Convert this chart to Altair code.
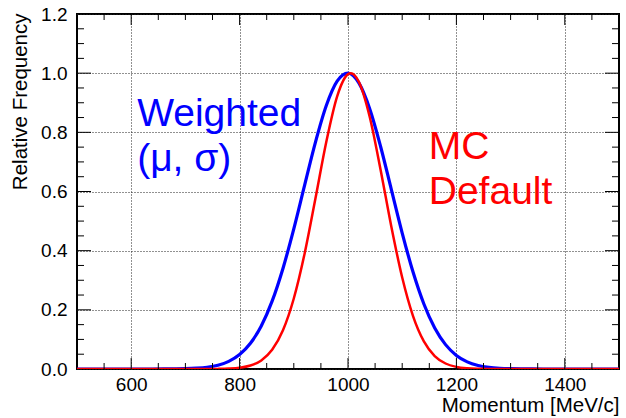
import altair as alt
import pandas as pd

# Momentum grid [MeV/c]
x_blue = [500, 540, 580, 620, 660, 700, 720, 740, 760, 780, 800, 820, 840, 860, 880, 900,
          920, 940, 960, 980, 1000, 1020, 1040, 1060, 1080, 1100, 1120, 1140, 1160, 1180,
          1200, 1220, 1240, 1260, 1280, 1300, 1340, 1380, 1420, 1460, 1500]
y_blue = [0.0, 0.0, 0.0, 0.0, 0.0002, 0.0011, 0.0027, 0.0060, 0.0129, 0.0259, 0.0489, 0.0870,
          0.1456, 0.2294, 0.340, 0.4738, 0.6215, 0.767, 0.8906, 0.9729, 1.0, 0.967, 0.8798,
          0.753, 0.6065, 0.4596, 0.3277, 0.2198, 0.1387, 0.0824, 0.046, 0.0242, 0.012,
          0.0056, 0.0024, 0.001, 0.0001, 0.0, 0.0, 0.0, 0.0]

x_red = [500, 560, 620, 680, 740, 760, 780, 800, 820, 840, 860, 880, 900, 920, 940, 960, 980,
         1000, 1005, 1020, 1040, 1060, 1080, 1100, 1120, 1140, 1160, 1180, 1200, 1220, 1240,
         1260, 1300, 1360, 1420, 1500]
y_red = [0.0, 0.0, 0.0, 0.0, 0.0001, 0.0004, 0.0014, 0.0042, 0.0117, 0.029, 0.0649, 0.131,
         0.2384, 0.3907, 0.5772, 0.7684, 0.9219, 0.9968, 1.0, 0.9711, 0.8527, 0.6747, 0.4811,
         0.3092, 0.179, 0.0934, 0.0439, 0.0186, 0.0071, 0.0024, 0.0007, 0.0002, 0.0, 0.0,
         0.0, 0.0]

x_major = [600, 800, 1000, 1200, 1400]
x_minor = [550, 650, 700, 750, 850, 900, 950, 1050, 1100, 1150, 1250, 1300, 1350, 1450]
y_major = [0.2, 0.4, 0.6, 0.8, 1.0]
y_minor = [0.05, 0.1, 0.15, 0.25, 0.3, 0.35, 0.45, 0.5, 0.55, 0.65, 0.7, 0.75,
           0.85, 0.9, 0.95, 1.05, 1.1, 1.15]
y_labels = [0.0, 0.2, 0.4, 0.6, 0.8, 1.0, 1.2]

W, H = 542, 355
FONT = "Liberation Sans"

blue_df = pd.DataFrame({"p": x_blue, "f": y_blue})
red_df = pd.DataFrame({"p": x_red, "f": y_red})

xs = alt.Scale(domain=[500, 1500], nice=False, zero=False)
ys = alt.Scale(domain=[0, 1.2], nice=False)

xaxis = alt.Axis(values=x_major, format="d", grid=True, gridDash=[1, 2], gridColor="#222",
                 gridWidth=1, ticks=False, domain=False, labelFontSize=19, labelFont=FONT,
                 labelColor="black", labelPadding=6, title="Momentum [MeV/c]", titleFont=FONT,
                 titleFontSize=20.5, titleFontWeight="normal", titleColor="black",
                 titleAnchor="end", titleAlign="right", titleBaseline="alphabetic",
                 titleX=W, titleY=42)
yaxis = alt.Axis(values=y_labels, format=".1f", grid=True, gridDash=[1, 2], gridColor="#222",
                 gridWidth=1, ticks=False, domain=False, labelFontSize=19, labelFont=FONT,
                 labelColor="black", labelPadding=10, title="Relative Frequency",
                 titleFont=FONT, titleFontSize=20.5, titleFontWeight="normal", titleColor="black",
                 titleAngle=270, titleAlign="right", titleBaseline="alphabetic",
                 titleX=-51, titleY=-1)

base_blue = alt.Chart(blue_df).mark_line(color="#0000ff", strokeWidth=3.2, clip=True,
                                         interpolate="monotone").encode(
    x=alt.X("p:Q", scale=xs, axis=xaxis),
    y=alt.Y("f:Q", scale=ys, axis=yaxis),
)
red_line = alt.Chart(red_df).mark_line(color="#ff0000", strokeWidth=2.5, clip=True,
                                       interpolate="monotone").encode(
    x=alt.X("p:Q", scale=xs),
    y=alt.Y("f:Q", scale=ys),
)

def xticks(vals, length):
    d = pd.DataFrame({"p": vals})
    bottom = alt.Chart(d).mark_rule(color="black", strokeWidth=1).encode(
        x=alt.X("p:Q", scale=xs), y=alt.value(H), y2=alt.value(H - length))
    top = alt.Chart(d).mark_rule(color="black", strokeWidth=1).encode(
        x=alt.X("p:Q", scale=xs), y=alt.value(0), y2=alt.value(length))
    return [bottom, top]

def yticks(vals, length):
    d = pd.DataFrame({"f": vals})
    left = alt.Chart(d).mark_rule(color="black", strokeWidth=1).encode(
        y=alt.Y("f:Q", scale=ys), x=alt.value(0), x2=alt.value(length))
    right = alt.Chart(d).mark_rule(color="black", strokeWidth=1).encode(
        y=alt.Y("f:Q", scale=ys), x=alt.value(W), x2=alt.value(W - length))
    return [left, right]

ticks = xticks(x_major, 11) + xticks(x_minor, 6) + yticks(y_major, 14) + yticks(y_minor, 7)

ann = pd.DataFrame({
    "p": [611, 1149],
    "f": [0.822, 0.71],
    "t": [["Weighted", "(\u03bc, \u03c3)"], ["MC", "Default"]],
    "c": ["#0000ff", "#ff0000"],
})
labels = alt.Chart(ann).mark_text(font=FONT, fontSize=39, align="left",
                                  baseline="alphabetic", lineHeight=45).encode(
    x=alt.X("p:Q", scale=xs), y=alt.Y("f:Q", scale=ys), text="t",
    color=alt.Color("c:N", scale=None))

chart = alt.layer(base_blue, red_line, *ticks, labels).properties(
    width=W, height=H,
    padding={"left": 77, "top": 14, "right": 7, "bottom": 49},
    autosize=alt.AutoSizeParams(type="none"),
    background="white",
).configure_view(stroke="black", strokeWidth=2)

chart.save("out.html", embed_options={"renderer": "svg", "actions": False})
